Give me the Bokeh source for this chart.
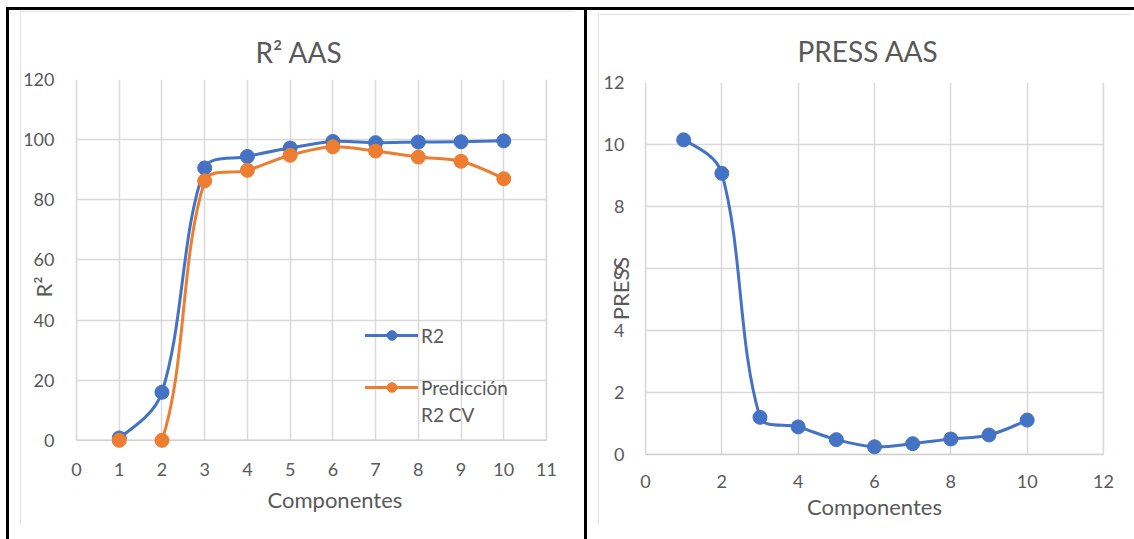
import numpy as np
from bokeh.plotting import figure
from bokeh.models import Range1d, FixedTicker, Legend, LegendItem, Div, Title
from bokeh.layouts import row, column
from bokeh.embed import file_html
from bokeh.resources import INLINE

# Number of PLS components and the model statistics for each
componentes = [1, 2, 3, 4, 5, 6, 7, 8, 9, 10]
r2 = [0.8, 16.0, 90.6, 94.4, 97.2, 99.4, 99.0, 99.2, 99.3, 99.6]
prediccion_r2_cv = [0.0, 0.0, 86.3, 89.8, 94.8, 97.6, 96.2, 94.2, 92.8, 87.0]
press = [10.15, 9.07, 1.20, 0.89, 0.48, 0.25, 0.35, 0.50, 0.63, 1.11]

r2_x_ticks = list(range(0, 12))
r2_y_ticks = list(range(0, 121, 20))
press_x_ticks = list(range(0, 13, 2))
press_y_ticks = list(range(0, 13, 2))

BLUE = "#4472C4"
ORANGE = "#ED7D31"
TEXT = "#595959"
GRID = "#D9D9D9"
AXIS = "#D0D0D0"
FONT = "Lato"

# Plot area sizes in pixels. The frame runs a little past the plot area
# (PAD px left and right, and below zero) so the axis drawn on the zero
# line keeps its end labels whole.
PAD = 12
R2_AREA_W, R2_Y0, R2_FRAME_H = 470, -18.0, 415
PRESS_AREA_W, PRESS_Y0, PRESS_FRAME_H = 458, -1.29, 412
TOP, BOTTOM = 68, 30


def padded(lo, hi, area_w):
    u = PAD * (hi - lo) / area_w
    return Range1d(lo - u, hi + u)


def smooth_segments(xs, ys, px_x, px_y):
    """Bezier pieces of a smoothed line through the points.

    Tangents follow the neighbouring points and are weighted by chord
    length measured on screen (px_x, px_y = pixels per data unit)."""
    x = np.asarray(xs, dtype=float)
    y = np.asarray(ys, dtype=float)
    n = len(x)
    d = np.hypot(np.diff(x) * px_x, np.diff(y) * px_y)  # segment lengths
    cx0, cy0 = np.zeros(n - 1), np.zeros(n - 1)
    cx1, cy1 = np.zeros(n - 1), np.zeros(n - 1)
    for i in range(n - 1):
        if i > 0:
            w = d[i] / (d[i - 1] + d[i]) / 3
            cx0[i] = x[i] + (x[i + 1] - x[i - 1]) * w
            cy0[i] = y[i] + (y[i + 1] - y[i - 1]) * w
        if i < n - 2:
            w = d[i] / (d[i] + d[i + 1]) / 3
            cx1[i] = x[i + 1] - (x[i + 2] - x[i]) * w
            cy1[i] = y[i + 1] - (y[i + 2] - y[i]) * w
    # end pieces: put the free control point halfway to the other one
    cx0[0], cy0[0] = (x[0] + cx1[0]) / 2, (y[0] + cy1[0]) / 2
    cx1[-1], cy1[-1] = (x[-1] + cx0[-1]) / 2, (y[-1] + cy0[-1]) / 2
    return dict(x0=x[:-1], y0=y[:-1], x1=x[1:], y1=y[1:],
                cx0=cx0, cy0=cy0, cx1=cx1, cy1=cy1)


def style(p, x_ticks, y_ticks, xs_off, ys_off, title_standoff, title_offset,
          y_title, y_title_standoff):
    p.title.text_font = FONT
    p.title.text_font_size = "28px"
    p.title.text_font_style = "normal"
    p.title.text_color = TEXT
    p.title.align = "left"
    p.title.offset = title_offset
    p.title.standoff = title_standoff
    p.background_fill_color = "white"
    p.border_fill_color = "white"
    p.outline_line_color = None
    p.styles = {"outline": "1px solid #D9D9D9", "outline-offset": "-1px"}

    p.xaxis.ticker = FixedTicker(ticks=x_ticks)
    p.yaxis.ticker = FixedTicker(ticks=y_ticks)
    p.xgrid.ticker = FixedTicker(ticks=x_ticks)
    p.ygrid.ticker = FixedTicker(ticks=y_ticks)
    p.xaxis.fixed_location = 0          # category axis drawn on the zero line
    p.xaxis.major_label_standoff = xs_off
    p.yaxis.major_label_standoff = ys_off
    for ax in p.axis:
        ax.major_tick_line_color = None
        ax.minor_tick_line_color = None
        ax.axis_line_color = None
        ax.major_label_text_font = FONT
        ax.major_label_text_font_size = "18px"
        ax.major_label_text_color = TEXT
    p.yaxis.axis_label = y_title
    p.yaxis.axis_label_standoff = y_title_standoff
    p.yaxis.axis_label_text_font = FONT
    p.yaxis.axis_label_text_font_size = "22px"
    p.yaxis.axis_label_text_font_style = "normal"
    p.yaxis.axis_label_text_color = TEXT
    p.grid.grid_line_color = GRID
    p.grid.grid_line_width = 1.5


def x_title(p, text, align, offset, standoff):
    p.add_layout(Title(text=text, align=align, offset=offset, standoff=standoff,
                       text_font=FONT, text_font_size="22px", text_font_style="normal",
                       text_color=TEXT), "below")


def plot_area(p, x_ticks, y_ticks):
    """Blank the frame outside the plot area, then draw its edges."""
    xs, xe = p.x_range.start, p.x_range.end
    ys, ye = p.y_range.start, p.y_range.end
    x_lo, x_hi, y_lo, y_hi = x_ticks[0], x_ticks[-1], y_ticks[0], y_ticks[-1]
    p.quad(left=[xs, x_hi, xs], right=[x_lo, xe, xe], bottom=[ys, ys, ys],
           top=[ye, ye, y_lo], fill_color="white", line_color=None)
    p.segment(x0=[x_lo, x_hi], y0=[y_lo, y_lo], x1=[x_lo, x_hi], y1=[y_hi, y_hi],
              line_color=GRID, line_width=1.5)
    p.segment(x0=[x_lo], y0=[y_lo], x1=[x_hi], y1=[y_lo], line_color=AXIS, line_width=1.5)


# ---- R2 chart -------------------------------------------------------------
r2_frame_w = R2_AREA_W + 2 * PAD
p1 = figure(width=555, height=TOP + R2_FRAME_H + BOTTOM,
            x_range=padded(0, 11, R2_AREA_W), y_range=Range1d(R2_Y0, 120),
            title="R² AAS", output_backend="svg", toolbar_location=None,
            min_border_left=56 - PAD, min_border_right=555 - (56 - PAD) - r2_frame_w,
            min_border_top=TOP, min_border_bottom=BOTTOM, margin=(1, 0, 0, 11))
style(p1, r2_x_ticks, r2_y_ticks, 17, 16 - PAD, 22, 179 + PAD, "R²", -37)
r2_px = (R2_AREA_W / 11, R2_FRAME_H / (120 - R2_Y0))

r2_line = p1.bezier(line_color=BLUE, line_width=3, line_cap="round",
                    **smooth_segments(componentes, r2, *r2_px))
cv_line = p1.bezier(line_color=ORANGE, line_width=3, line_cap="round",
                    **smooth_segments(componentes, prediccion_r2_cv, *r2_px))
plot_area(p1, r2_x_ticks, r2_y_ticks)
r2_pts = p1.scatter(componentes, r2, size=14, color=BLUE)
cv_pts = p1.scatter(componentes, prediccion_r2_cv, size=14, color=ORANGE)

legend_kw = dict(orientation="vertical", glyph_width=53, glyph_height=24,
                 label_height=24, label_standoff=3, spacing=3, padding=0, margin=0,
                 border_line_color=None, background_fill_alpha=0,
                 label_text_font=FONT, label_text_font_size="19px",
                 label_text_color=TEXT)
p1.add_layout(Legend(items=[LegendItem(label="R2", renderers=[r2_line, r2_pts])],
                     location=(289 + PAD, 147), **legend_kw))
p1.add_layout(Legend(items=[LegendItem(label="Predicción", renderers=[cv_line, cv_pts]),
                            LegendItem(label="R2 CV", renderers=[])],
                     location=(289 + PAD, 68), **legend_kw))

x_title(p1, "Componentes", "left", 191 + PAD, -22)

# ---- PRESS chart ----------------------------------------------------------
press_frame_w = PRESS_AREA_W + 2 * PAD
p2 = figure(width=533, height=TOP + PRESS_FRAME_H + BOTTOM,
            x_range=padded(0, 12, PRESS_AREA_W), y_range=Range1d(PRESS_Y0, 12),
            title="PRESS AAS", output_backend="svg", toolbar_location=None,
            min_border_left=47 - PAD, min_border_right=533 - (47 - PAD) - press_frame_w,
            min_border_top=TOP, min_border_bottom=BOTTOM, margin=(4, 0, 0, 11))
style(p2, press_x_ticks, press_y_ticks, 14, 15 - PAD, 29, 152 + PAD, "PRESS", -33)
press_px = (PRESS_AREA_W / 12, PRESS_FRAME_H / (12 - PRESS_Y0))

p2.bezier(line_color=BLUE, line_width=3, line_cap="round",
          **smooth_segments(componentes, press, *press_px))
plot_area(p2, press_x_ticks, press_y_ticks)
p2.scatter(componentes, press, size=14, color=BLUE)

x_title(p2, "Componentes", "center", 0, -8)

# ---- page frame rules -------------------------------------------------------
rule = {"background-color": "#000000"}
top_rule = Div(text="", width=1128, height=3, margin=(7, 0, 0, 6), styles=rule)
left_rule = Div(text="", width=3, height=529, margin=(0, 0, 0, 6), styles=rule)
mid_rule = Div(text="", width=3, height=529, margin=(0, 0, 0, 9), styles=rule)

page = column(top_rule, row(left_rule, p1, mid_rule, p2, spacing=0), spacing=0)

open("out.html", "w").write(file_html(page, INLINE, title="R2 y PRESS AAS"))
